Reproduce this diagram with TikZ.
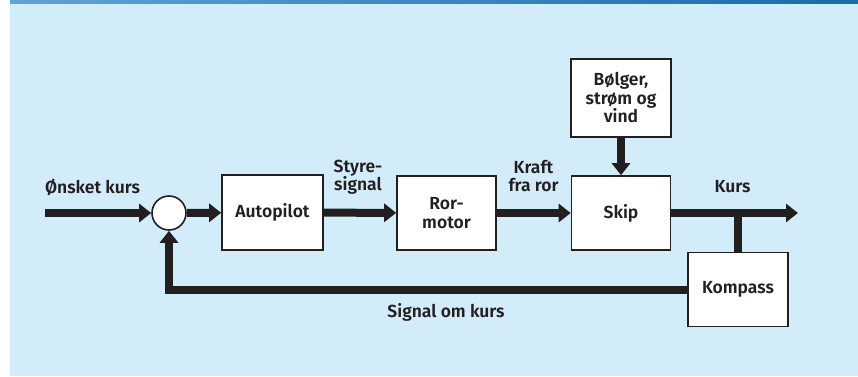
\documentclass[tikz,border=0pt]{standalone}
\usepackage{fontspec}
\setmainfont{Fira Sans}[BoldFont={Fira Sans SemiBold}]
\usetikzlibrary{arrows.meta}

\definecolor{bgblue}{RGB}{210,237,249}
\definecolor{stripleft}{RGB}{96,163,213}
\definecolor{stripright}{RGB}{24,108,172}
\definecolor{ink}{RGB}{35,31,32}

\begin{document}
\begin{tikzpicture}[
    x=1pt, y=-1pt,
    every node/.style={font=\fontsize{17.5}{18.5}\selectfont\bfseries, text=ink, align=center},
    block/.style={rectangle, draw=ink, line width=1.6pt, fill=white},
    flow/.style={draw=ink, line width=8pt, -{Triangle[width=18pt,length=12pt]}},
    link/.style={draw=ink, line width=8pt}
]

% ================= Background =================

\useasboundingbox (0,0) rectangle (858,376);
\fill[bgblue] (10,0) rectangle (858,376);
\shade[left color=stripleft, right color=stripright] (10,0) rectangle (858,3);

% ================= Blocks =================

\node[circle, draw=ink, line width=1.6pt, fill=white, minimum size=34pt, inner sep=0pt] (sum) at (169,213) {};
\node[block, minimum width=101pt, minimum height=75pt] (autopilot) at (272.5,212.5) {Autopilot};
\node[block, minimum width=99pt, minimum height=74pt] (rormotor) at (446.5,213) {Ror-\\motor};
\node[block, minimum width=99pt, minimum height=74pt] (skip) at (621,213) {Skip};
\node[block, minimum width=100pt, minimum height=78pt] (bolger) at (621,98) {Bølger,\\strøm og\\vind};
\node[block, minimum width=100pt, minimum height=74pt] (kompass) at (738,289.5) {Kompass};

\coordinate (inn) at (45,213);
\coordinate (ut) at (798,213);

% ================= Connectors =================

\draw[flow] (inn) -- (sum);
\draw[flow] (sum) -- (autopilot);
\draw[flow] (autopilot) -- (rormotor);
\draw[flow] (rormotor) -- (skip);
\draw[flow] (bolger) -- (skip);
\draw[flow] (skip) -- (ut);
\draw[link] (kompass.north) -- (kompass.north |- skip.east);
\draw[flow] (kompass.west) -| (sum.south);

% ================= Labels =================

\node (lonsket) at (92.5,187) {Ønsket kurs};
\node (lstyre) at (358,177) {Styre-\\signal};
\node (lkraft) at (533.5,176) {Kraft\\fra ror};
\node (lkurs) at (732.5,187) {Kurs};
\node (lsignal) at (446,312) {Signal om kurs};

\end{tikzpicture}
\end{document}
